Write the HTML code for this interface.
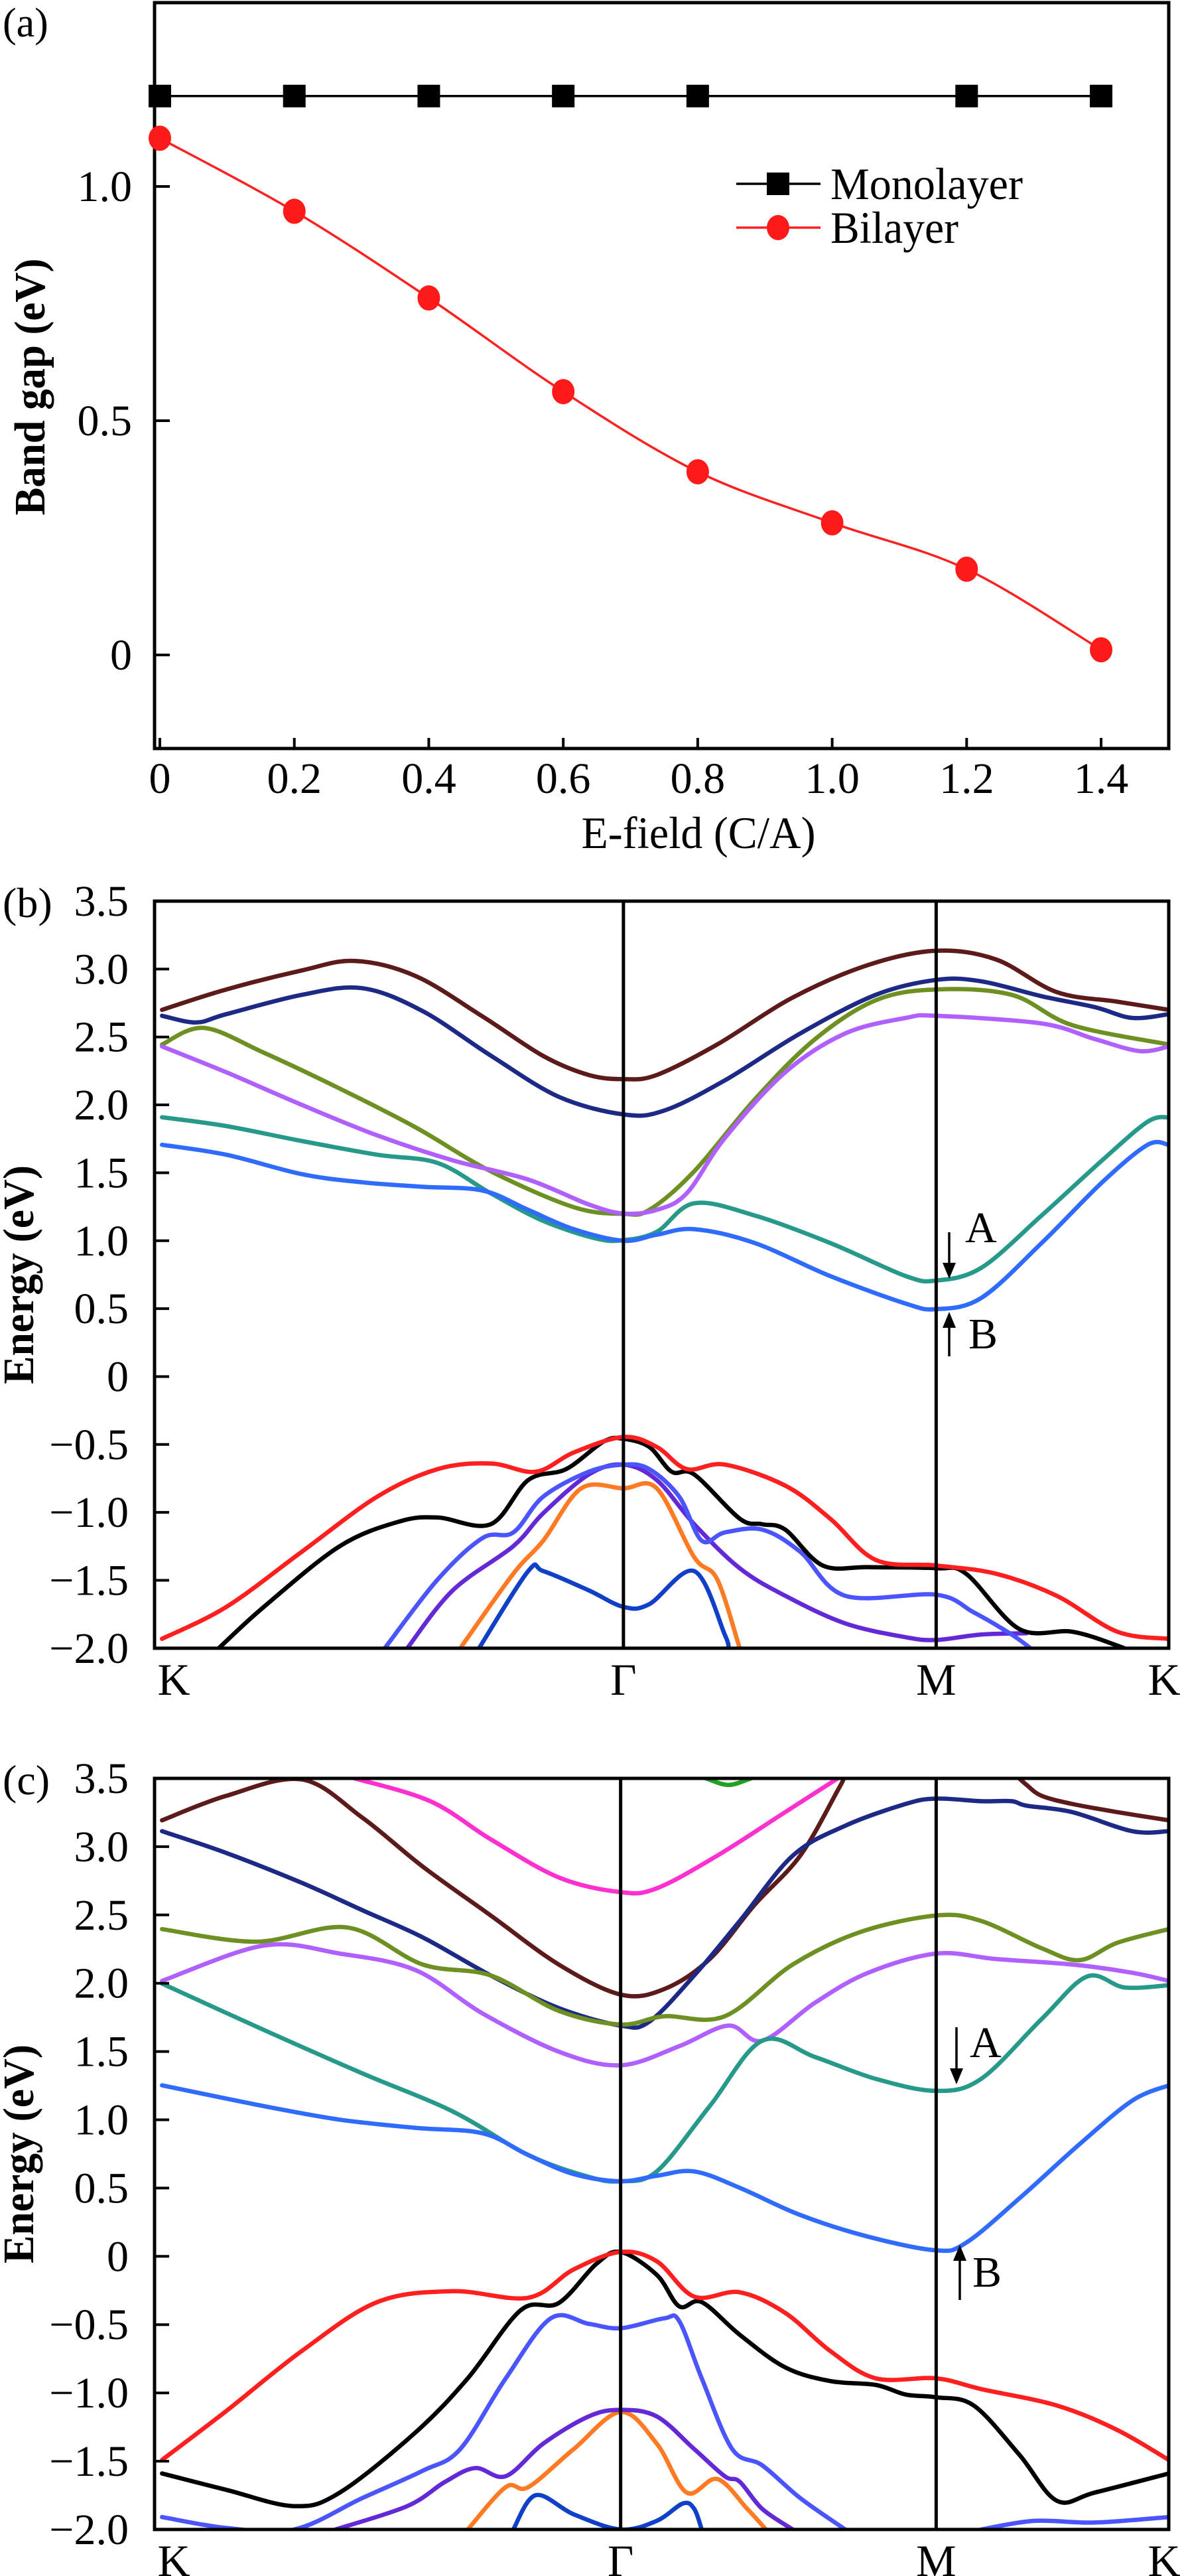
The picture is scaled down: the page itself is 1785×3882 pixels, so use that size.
<!DOCTYPE html>
<html><head><meta charset="utf-8"><style>
html,body{margin:0;padding:0;background:#fff}
svg{display:block}
text{font-family:"Liberation Serif","DejaVu Serif",serif;fill:#000}
</style></head><body>
<svg id="fig" xmlns="http://www.w3.org/2000/svg" width="1785" height="3882" viewBox="0 0 1785 3882" font-family="Liberation Serif, DejaVu Serif, serif">
<defs>
<clipPath id="clipB"><rect x="233" y="1358" width="1529" height="1126"/></clipPath>
<clipPath id="clipC"><rect x="233" y="2680" width="1529" height="1132"/></clipPath>
</defs>
<g id="panelA"></g>
<g id="panelB"></g>
<g id="panelC"></g>
</svg>
<script>
// ---------- Panel (a) data ----------
const aMonoX = [0, 0.2, 0.4, 0.6, 0.8, 1.2, 1.4];
const aMonoY = [1.193, 1.193, 1.193, 1.193, 1.193, 1.193, 1.193];
const aBiX = [0, 0.2, 0.4, 0.6, 0.8, 1.0, 1.2, 1.4];
const aBiY = [1.103, 0.947, 0.762, 0.562, 0.391, 0.282, 0.183, 0.011];
const aXTicks = [0, 0.2, 0.4, 0.6, 0.8, 1.0, 1.2, 1.4];
const aXTickLabels = ["0", "0.2", "0.4", "0.6", "0.8", "1.0", "1.2", "1.4"];
const aYTicks = [0, 0.5, 1.0];
const aYTickLabels = ["0", "0.5", "1.0"];

// ---------- Band structure axes ----------
const eTicks = [3.5, 3.0, 2.5, 2.0, 1.5, 1.0, 0.5, 0, -0.5, -1.0, -1.5, -2.0];
const eTickLabels = ["3.5", "3.0", "2.5", "2.0", "1.5", "1.0", "0.5", "0", "\u22120.5", "\u22121.0", "\u22121.5", "\u22122.0"];
const kLabels = ["K", "\u0393", "M", "K"];
const kPointsB = [0, 1.0, 1.667, 2.163];
const kPointsC = [0, 0.994, 1.667, 2.163];

// ---------- Panel (b) bands ----------
const bBrown = [[0.016,2.70],[0.153,2.85],[0.314,2.99],[0.427,3.06],[0.556,2.95],[0.700,2.65],[0.829,2.36],[0.926,2.22],[1.0,2.19],[1.071,2.22],[1.200,2.445],[1.361,2.79],[1.522,3.03],[1.667,3.135],[1.795,3.07],[1.924,2.83],[2.053,2.76],[2.163,2.70]];
const bNavy = [[0.016,2.656],[0.089,2.607],[0.153,2.668],[0.314,2.81],[0.443,2.859],[0.572,2.69],[0.717,2.363],[0.862,2.06],[1.0,1.93],[1.087,1.958],[1.216,2.18],[1.377,2.526],[1.538,2.81],[1.667,2.92],[1.763,2.91],[1.892,2.80],[2.005,2.72],[2.085,2.64],[2.163,2.668]];
const bOlive = [[0.016,2.445],[0.105,2.567],[0.233,2.384],[0.395,2.12],[0.556,1.836],[0.717,1.511],[0.894,1.247],[1.0,1.198],[1.055,1.227],[1.151,1.511],[1.280,2.04],[1.409,2.485],[1.538,2.77],[1.667,2.85],[1.828,2.81],[1.957,2.587],[2.163,2.445]];
const bViolet = [[0.016,2.43],[0.153,2.24],[0.314,2.0],[0.475,1.775],[0.636,1.592],[0.797,1.45],[0.926,1.267],[1.0,1.2],[1.071,1.227],[1.135,1.349],[1.216,1.755],[1.345,2.24],[1.473,2.526],[1.602,2.64],[1.667,2.656],[1.892,2.599],[2.005,2.485],[2.101,2.396],[2.163,2.43]];
const bTeal = [[0.016,1.909],[0.153,1.844],[0.314,1.734],[0.475,1.633],[0.604,1.572],[0.717,1.349],[0.829,1.146],[0.942,1.016],[1.0,1.004],[1.071,1.065],[1.151,1.276],[1.280,1.186],[1.441,0.983],[1.602,0.74],[1.667,0.707],[1.763,0.80],[1.892,1.186],[2.021,1.592],[2.118,1.876],[2.163,1.909]];
const bBlue = [[0.016,1.706],[0.153,1.633],[0.314,1.49],[0.443,1.43],[0.572,1.397],[0.700,1.369],[0.797,1.227],[0.894,1.085],[1.0,1.0],[1.071,1.044],[1.151,1.085],[1.280,0.983],[1.441,0.74],[1.602,0.537],[1.667,0.496],[1.763,0.578],[1.892,0.983],[2.021,1.43],[2.118,1.706],[2.163,1.706]];
const bRed = [[0.016,-1.931],[0.153,-1.696],[0.314,-1.29],[0.475,-0.884],[0.604,-0.681],[0.717,-0.64],[0.813,-0.701],[0.894,-0.559],[1.0,-0.445],[1.071,-0.518],[1.135,-0.681],[1.216,-0.648],[1.345,-0.803],[1.441,-1.046],[1.538,-1.35],[1.667,-1.391],[1.795,-1.452],[1.924,-1.614],[2.053,-1.878],[2.163,-1.931]];
const bBlack = [[0.137,-2.0],[0.233,-1.696],[0.395,-1.249],[0.523,-1.066],[0.604,-1.038],[0.717,-1.087],[0.797,-0.762],[0.878,-0.681],[0.958,-0.478],[1.0,-0.458],[1.055,-0.518],[1.103,-0.701],[1.151,-0.721],[1.248,-1.046],[1.296,-1.087],[1.345,-1.127],[1.425,-1.391],[1.522,-1.403],[1.667,-1.411],[1.731,-1.452],[1.844,-1.858],[1.957,-1.878],[2.053,-1.98],[2.10,-2.05]];
const bRoyal = [[0.491,-2.0],[0.604,-1.493],[0.700,-1.188],[0.765,-1.148],[0.829,-0.884],[0.926,-0.701],[1.0,-0.648],[1.055,-0.681],[1.119,-0.884],[1.167,-1.208],[1.216,-1.148],[1.296,-1.127],[1.377,-1.29],[1.473,-1.614],[1.667,-1.606],[1.747,-1.736],[1.828,-1.899],[1.868,-2.0]];
const bIndigo = [[0.539,-2.0],[0.636,-1.574],[0.765,-1.249],[0.829,-1.006],[0.926,-0.721],[1.0,-0.648],[1.071,-0.762],[1.151,-1.087],[1.248,-1.411],[1.345,-1.614],[1.473,-1.817],[1.602,-1.919],[1.667,-1.939],[1.763,-1.899],[1.86,-1.89]];
const bOrange = [[0.652,-2.0],[0.765,-1.452],[0.829,-1.208],[0.910,-0.823],[1.0,-0.823],[1.071,-0.823],[1.151,-1.33],[1.200,-1.493],[1.248,-2.0]];
const bDark = [[0.692,-2.0],[0.797,-1.432],[0.829,-1.432],[0.926,-1.574],[1.0,-1.696],[1.055,-1.676],[1.151,-1.432],[1.216,-1.899],[1.224,-2.0]];

// ---------- Panel (c) bands ----------
const cPink = [[0.427,3.5],[0.588,3.333],[0.717,3.054],[0.862,2.775],[0.994,2.667],[1.071,2.695],[1.200,2.934],[1.345,3.253],[1.457,3.5]];
const cGreen = [[1.176,3.5],[1.224,3.452],[1.272,3.5]];
const cBrown = [[0.016,3.193],[0.153,3.372],[0.314,3.492],[0.443,3.213],[0.572,2.854],[0.717,2.496],[0.862,2.137],[0.994,1.917],[1.087,1.957],[1.184,2.177],[1.280,2.575],[1.377,2.934],[1.457,3.412],[1.47,3.5]];
const cBrown2 = [[1.844,3.5],[1.860,3.452],[1.892,3.372],[1.957,3.313],[2.053,3.253],[2.163,3.193]];
const cNavy = [[0.016,3.113],[0.153,2.954],[0.314,2.735],[0.443,2.535],[0.572,2.336],[0.717,2.057],[0.862,1.818],[0.994,1.69],[1.055,1.718],[1.151,2.057],[1.248,2.456],[1.361,2.934],[1.473,3.153],[1.602,3.313],[1.667,3.352],[1.763,3.333],[1.828,3.333],[1.860,3.30],[1.957,3.253],[2.085,3.113],[2.163,3.113]];
const cOlive = [[0.016,2.396],[0.217,2.304],[0.411,2.408],[0.572,2.137],[0.717,2.057],[0.862,1.798],[0.994,1.698],[1.087,1.758],[1.216,1.758],[1.361,2.137],[1.506,2.376],[1.667,2.496],[1.763,2.456],[1.892,2.256],[1.973,2.169],[2.053,2.296],[2.163,2.396]];
const cViolet = [[0.016,2.017],[0.233,2.276],[0.395,2.217],[0.556,2.097],[0.700,1.778],[0.862,1.499],[0.994,1.399],[1.119,1.539],[1.224,1.69],[1.296,1.579],[1.409,1.858],[1.522,2.077],[1.667,2.217],[1.795,2.177],[1.957,2.137],[2.085,2.077],[2.163,2.017]];
const cTeal = [[0.016,1.997],[0.233,1.658],[0.443,1.34],[0.636,1.061],[0.797,0.742],[0.926,0.582],[0.994,0.55],[1.071,0.622],[1.184,1.1],[1.296,1.579],[1.409,1.459],[1.538,1.3],[1.667,1.212],[1.763,1.30],[1.892,1.738],[1.989,2.049],[2.069,1.969],[2.163,1.985]];
const cBlue = [[0.016,1.252],[0.233,1.1],[0.395,1.001],[0.556,0.941],[0.700,0.901],[0.797,0.742],[0.894,0.602],[0.994,0.55],[1.071,0.59],[1.151,0.622],[1.248,0.502],[1.377,0.303],[1.522,0.144],[1.667,0.044],[1.731,0.10],[1.844,0.423],[1.973,0.822],[2.085,1.14],[2.163,1.252]];
const cRed = [[0.016,-1.491],[0.153,-1.132],[0.314,-0.693],[0.475,-0.335],[0.636,-0.255],[0.797,-0.303],[0.894,-0.095],[0.994,0.032],[1.071,-0.036],[1.151,-0.295],[1.248,-0.263],[1.345,-0.414],[1.441,-0.693],[1.538,-0.893],[1.667,-0.893],[1.763,-0.972],[1.924,-1.092],[2.053,-1.271],[2.163,-1.491]];
const cBlack = [[0.016,-1.59],[0.153,-1.71],[0.298,-1.829],[0.395,-1.73],[0.556,-1.291],[0.668,-0.893],[0.781,-0.394],[0.862,-0.342],[0.942,-0.056],[0.994,0.032],[1.071,-0.135],[1.119,-0.366],[1.167,-0.335],[1.248,-0.574],[1.345,-0.813],[1.441,-0.913],[1.538,-0.941],[1.602,-1.012],[1.667,-1.032],[1.747,-1.092],[1.844,-1.451],[1.924,-1.789],[2.005,-1.73],[2.163,-1.59]];
const cRoyal = [[0.016,-1.909],[0.153,-1.989],[0.298,-2.0],[0.443,-1.77],[0.572,-1.57],[0.652,-1.411],[0.749,-0.893],[0.845,-0.454],[0.926,-0.494],[0.994,-0.526],[1.087,-0.454],[1.119,-0.474],[1.167,-0.893],[1.232,-1.411],[1.296,-1.53],[1.377,-1.77],[1.473,-2.0]];
const cRoyal2 = [[1.763,-2.0],[1.876,-1.937],[2.005,-1.949],[2.163,-1.909]];
const cIndigo = [[0.386,-2.0],[0.539,-1.829],[0.620,-1.65],[0.684,-1.55],[0.749,-1.61],[0.829,-1.371],[0.926,-1.172],[0.994,-1.124],[1.071,-1.172],[1.151,-1.411],[1.216,-1.61],[1.248,-1.65],[1.296,-1.849],[1.361,-2.0]];
const cOrange = [[0.668,-2.0],[0.749,-1.69],[0.797,-1.69],[0.894,-1.411],[0.994,-1.14],[1.071,-1.371],[1.135,-1.73],[1.200,-1.63],[1.264,-1.849],[1.304,-2.0]];
const cDark = [[0.765,-2.0],[0.813,-1.749],[0.894,-1.889],[0.994,-2.0],[1.071,-1.937],[1.127,-1.809],[1.151,-1.849],[1.167,-2.0]];

const NS = "http://www.w3.org/2000/svg";
const FONT = "Liberation Serif, DejaVu Serif, serif";
function mk(tag, attrs, parent) {
  const e = document.createElementNS(NS, tag);
  for (const k in attrs) e.setAttribute(k, attrs[k]);
  if (tag === "text") e.setAttribute("font-family", FONT);
  parent.appendChild(e);
  return e;
}
function smoothPath(pts) {
  if (pts.length < 2) return "";
  let d = "M" + pts[0][0].toFixed(1) + "," + pts[0][1].toFixed(1);
  for (let i = 0; i < pts.length - 1; i++) {
    const p0 = pts[i - 1] || pts[i], p1 = pts[i], p2 = pts[i + 1], p3 = pts[i + 2] || p2;
    const c1x = p1[0] + (p2[0] - p0[0]) / 6, c1y = p1[1] + (p2[1] - p0[1]) / 6;
    const c2x = p2[0] - (p3[0] - p1[0]) / 6, c2y = p2[1] - (p3[1] - p1[1]) / 6;
    d += " C" + c1x.toFixed(1) + "," + c1y.toFixed(1) + " " + c2x.toFixed(1) + "," + c2y.toFixed(1) + " " + p2[0].toFixed(1) + "," + p2[1].toFixed(1);
  }
  return d;
}

// ================= Panel (a) =================
(function () {
  const g = document.getElementById("panelA");
  const X = v => 241 + v * 1013.6;
  const Y = v => 987 - v * 706;
  const lab = mk("text", {x: 4, y: 55, "font-size": 62}, g);
  lab.textContent = "(a)";
  
  
  const frame = mk("rect", {x: 233, y: 4, width: 1529, height: 1124, fill: "none", stroke: "#000", "stroke-width": 5}, g);
  
  
  aXTicks.forEach((v, i) => {
    const t = mk("line", {x1: X(v), x2: X(v), y1: 1128, y2: 1112, stroke: "#000", "stroke-width": 4}, g);
    
    
    const tl = mk("text", {x: X(v), y: 1195, "font-size": 66, "text-anchor": "middle"}, g);
    tl.textContent = aXTickLabels[i];
    
    
  });
  aYTicks.forEach((v, i) => {
    const t = mk("line", {x1: 233, x2: 256, y1: Y(v), y2: Y(v), stroke: "#000", "stroke-width": 4}, g);
    
    
    const tl = mk("text", {x: 199, y: Y(v) + 22, "font-size": 66, "text-anchor": "end"}, g);
    tl.textContent = aYTickLabels[i];
    
    
  });
  const yt = mk("text", {x: 0, y: 0, "font-size": 66, "font-weight": "bold", "text-anchor": "middle", transform: "translate(67,583) rotate(-90)", textLength: 387, lengthAdjust: "spacingAndGlyphs"}, g);
  yt.textContent = "Band gap (eV)";
  
  
  const xt = mk("text", {x: 1053, y: 1278, "font-size": 68, "text-anchor": "middle", textLength: 353, lengthAdjust: "spacingAndGlyphs"}, g);
  xt.textContent = "E-field (C/A)";
  
  
  const ml = mk("polyline", {points: aMonoX.map((x, i) => X(x) + "," + Y(aMonoY[i])).join(" "), fill: "none", stroke: "#000", "stroke-width": 3.5}, g);
  
  
  aMonoX.forEach((x, i) => {
    const m = mk("rect", {x: X(x) - 17, y: Y(aMonoY[i]) - 17, width: 34, height: 34, fill: "#000"}, g);
    
    
  });
  const bp = aBiX.map((x, i) => [X(x), Y(aBiY[i])]);
  const bl = mk("path", {d: smoothPath(bp), fill: "none", stroke: "#ff2020", "stroke-width": 3.5}, g);
  
  
  bp.forEach(p => {
    const c = mk("ellipse", {cx: p[0], cy: p[1], rx: 17, ry: 19, fill: "#ff1a1a"}, g);
    
    
  });
  const leg = mk("g", {}, g);
  
  
  mk("line", {x1: 1110, x2: 1237, y1: 277, y2: 277, stroke: "#000", "stroke-width": 3.5}, leg);
  mk("rect", {x: 1156, y: 260, width: 34, height: 34, fill: "#000"}, leg);
  const t1 = mk("text", {x: 1252, y: 300, "font-size": 68, textLength: 290, lengthAdjust: "spacingAndGlyphs"}, leg);
  t1.textContent = "Monolayer";
  
  
  mk("line", {x1: 1110, x2: 1237, y1: 343, y2: 343, stroke: "#ff2020", "stroke-width": 3.5}, leg);
  mk("ellipse", {cx: 1173, cy: 343, rx: 17, ry: 19, fill: "#ff1a1a"}, leg);
  const t2 = mk("text", {x: 1252, y: 366, "font-size": 68, textLength: 193, lengthAdjust: "spacingAndGlyphs"}, leg);
  t2.textContent = "Bilayer";
  
  
})();

// ================= Band panels =================
function bandPanel(gid, top, pxPerE, kPts, clipId, letter, bands, ann) {
  const g = document.getElementById(gid);
  const left = 233, right = 1762, bottom = top + 5.5 * pxPerE;
  const KX = k => left + k * (1529 / 2.163);
  const EY = e => top + (3.5 - e) * pxPerE;
  const lab = mk("text", {x: 4, y: top + 24, "font-size": 64}, g);
  lab.textContent = "(" + letter + ")";
  
  
  const bg = mk("g", {"clip-path": "url(#" + clipId + ")"}, g);
  
  
  bands.forEach(b => {
    const p = mk("path", {d: smoothPath(b.data.map(d => [KX(d[0]), EY(d[1])])), fill: "none", stroke: b.color, "stroke-width": 6.5, "stroke-linejoin": "round", "stroke-linecap": "round"}, bg);
    
    
  });
  kPts.forEach((k, i) => {
    if (i > 0 && i < kPts.length - 1) {
      const l = mk("line", {x1: KX(k), x2: KX(k), y1: top, y2: bottom, stroke: "#000", "stroke-width": 5}, g);
      
      
    }
    const t = mk("text", {x: Math.min(Math.max(KX(k), 262), 1755), y: bottom + 70, "font-size": 68, "text-anchor": "middle"}, g);
    t.textContent = kLabels[i];
    
    
  });
  const frame = mk("rect", {x: left, y: top, width: 1529, height: bottom - top, fill: "none", stroke: "#000", "stroke-width": 5}, g);
  
  
  eTicks.forEach((e, i) => {
    const t = mk("line", {x1: left, x2: left + 22, y1: EY(e), y2: EY(e), stroke: "#000", "stroke-width": 4}, g);
    
    
    const tl = mk("text", {x: 194, y: EY(e) + 22, "font-size": 66, "text-anchor": "end"}, g);
    tl.textContent = eTickLabels[i];
    
    
  });
  const yc = (top + bottom) / 2;
  const yt = mk("text", {x: 0, y: 0, "font-size": 66, "font-weight": "bold", "text-anchor": "middle", transform: "translate(50," + yc + ") rotate(-90)", textLength: 330, lengthAdjust: "spacingAndGlyphs"}, g);
  yt.textContent = "Energy (eV)";
  
  
  const aA = mk("g", {}, g);
  
  
  mk("line", {x1: ann.ax, x2: ann.ax, y1: ann.a1, y2: ann.a2 - 18, stroke: "#000", "stroke-width": 3.5}, aA);
  mk("polygon", {points: (ann.ax - 10) + "," + (ann.a2 - 24) + " " + (ann.ax + 10) + "," + (ann.a2 - 24) + " " + ann.ax + "," + ann.a2, fill: "#000"}, aA);
  const ta = mk("text", {x: ann.tax, y: ann.tay, "font-size": 66}, g);
  ta.textContent = "A";
  
  
  const aB = mk("g", {}, g);
  
  
  mk("line", {x1: ann.bx, x2: ann.bx, y1: ann.b1, y2: ann.b2 + 18, stroke: "#000", "stroke-width": 3.5}, aB);
  mk("polygon", {points: (ann.bx - 10) + "," + (ann.b2 + 24) + " " + (ann.bx + 10) + "," + (ann.b2 + 24) + " " + ann.bx + "," + ann.b2, fill: "#000"}, aB);
  const tb = mk("text", {x: ann.tbx, y: ann.tby, "font-size": 66}, g);
  tb.textContent = "B";
  
  
}

const C = {brown: "#5c1a1a", navy: "#1c2a86", olive: "#6e8f22", violet: "#b060ff", teal: "#26998a", blue: "#2f6bff", red: "#ff1f1f", black: "#000", royal: "#4a55ff", indigo: "#6429d6", orange: "#ff7a22", dark: "#1040c8", pink: "#ff2fd0", green: "#22a022"};

bandPanel("panelB", 1358, 204.7, kPointsB, "clipB", "b", [
  {name: "band-b-brown", color: C.brown, data: bBrown},
  {name: "band-b-navy", color: C.navy, data: bNavy},
  {name: "band-b-olive", color: C.olive, data: bOlive},
  {name: "band-b-violet", color: C.violet, data: bViolet},
  {name: "band-b-teal", color: C.teal, data: bTeal},
  {name: "band-b-blue", color: C.blue, data: bBlue},
  {name: "band-b-orange", color: C.orange, data: bOrange},
  {name: "band-b-dark-blue", color: C.dark, data: bDark},
  {name: "band-b-indigo", color: C.indigo, data: bIndigo},
  {name: "band-b-royal", color: C.royal, data: bRoyal},
  {name: "band-b-black", color: C.black, data: bBlack},
  {name: "band-b-red", color: C.red, data: bRed}
], {ax: 1431, a1: 1857, a2: 1927, tax: 1455, tay: 1872, bx: 1431, b1: 2044, b2: 1977, tbx: 1460, tby: 2032});

bandPanel("panelC", 2680, 205.8, kPointsC, "clipC", "c", [
  {name: "band-c-pink", color: C.pink, data: cPink},
  {name: "band-c-green", color: C.green, data: cGreen},
  {name: "band-c-brown", color: C.brown, data: cBrown},
  {name: "band-c-brown-right", color: C.brown, data: cBrown2},
  {name: "band-c-navy", color: C.navy, data: cNavy},
  {name: "band-c-olive", color: C.olive, data: cOlive},
  {name: "band-c-violet", color: C.violet, data: cViolet},
  {name: "band-c-teal", color: C.teal, data: cTeal},
  {name: "band-c-blue", color: C.blue, data: cBlue},
  {name: "band-c-orange", color: C.orange, data: cOrange},
  {name: "band-c-dark-blue", color: C.dark, data: cDark},
  {name: "band-c-indigo", color: C.indigo, data: cIndigo},
  {name: "band-c-royal", color: C.royal, data: cRoyal},
  {name: "band-c-royal-right", color: C.royal, data: cRoyal2},
  {name: "band-c-black", color: C.black, data: cBlack},
  {name: "band-c-red", color: C.red, data: cRed}
], {ax: 1442, a1: 3055, a2: 3141, tax: 1462, tay: 3100, bx: 1447, b1: 3466, b2: 3383, tbx: 1466, tby: 3446});
</script>
</body></html>
